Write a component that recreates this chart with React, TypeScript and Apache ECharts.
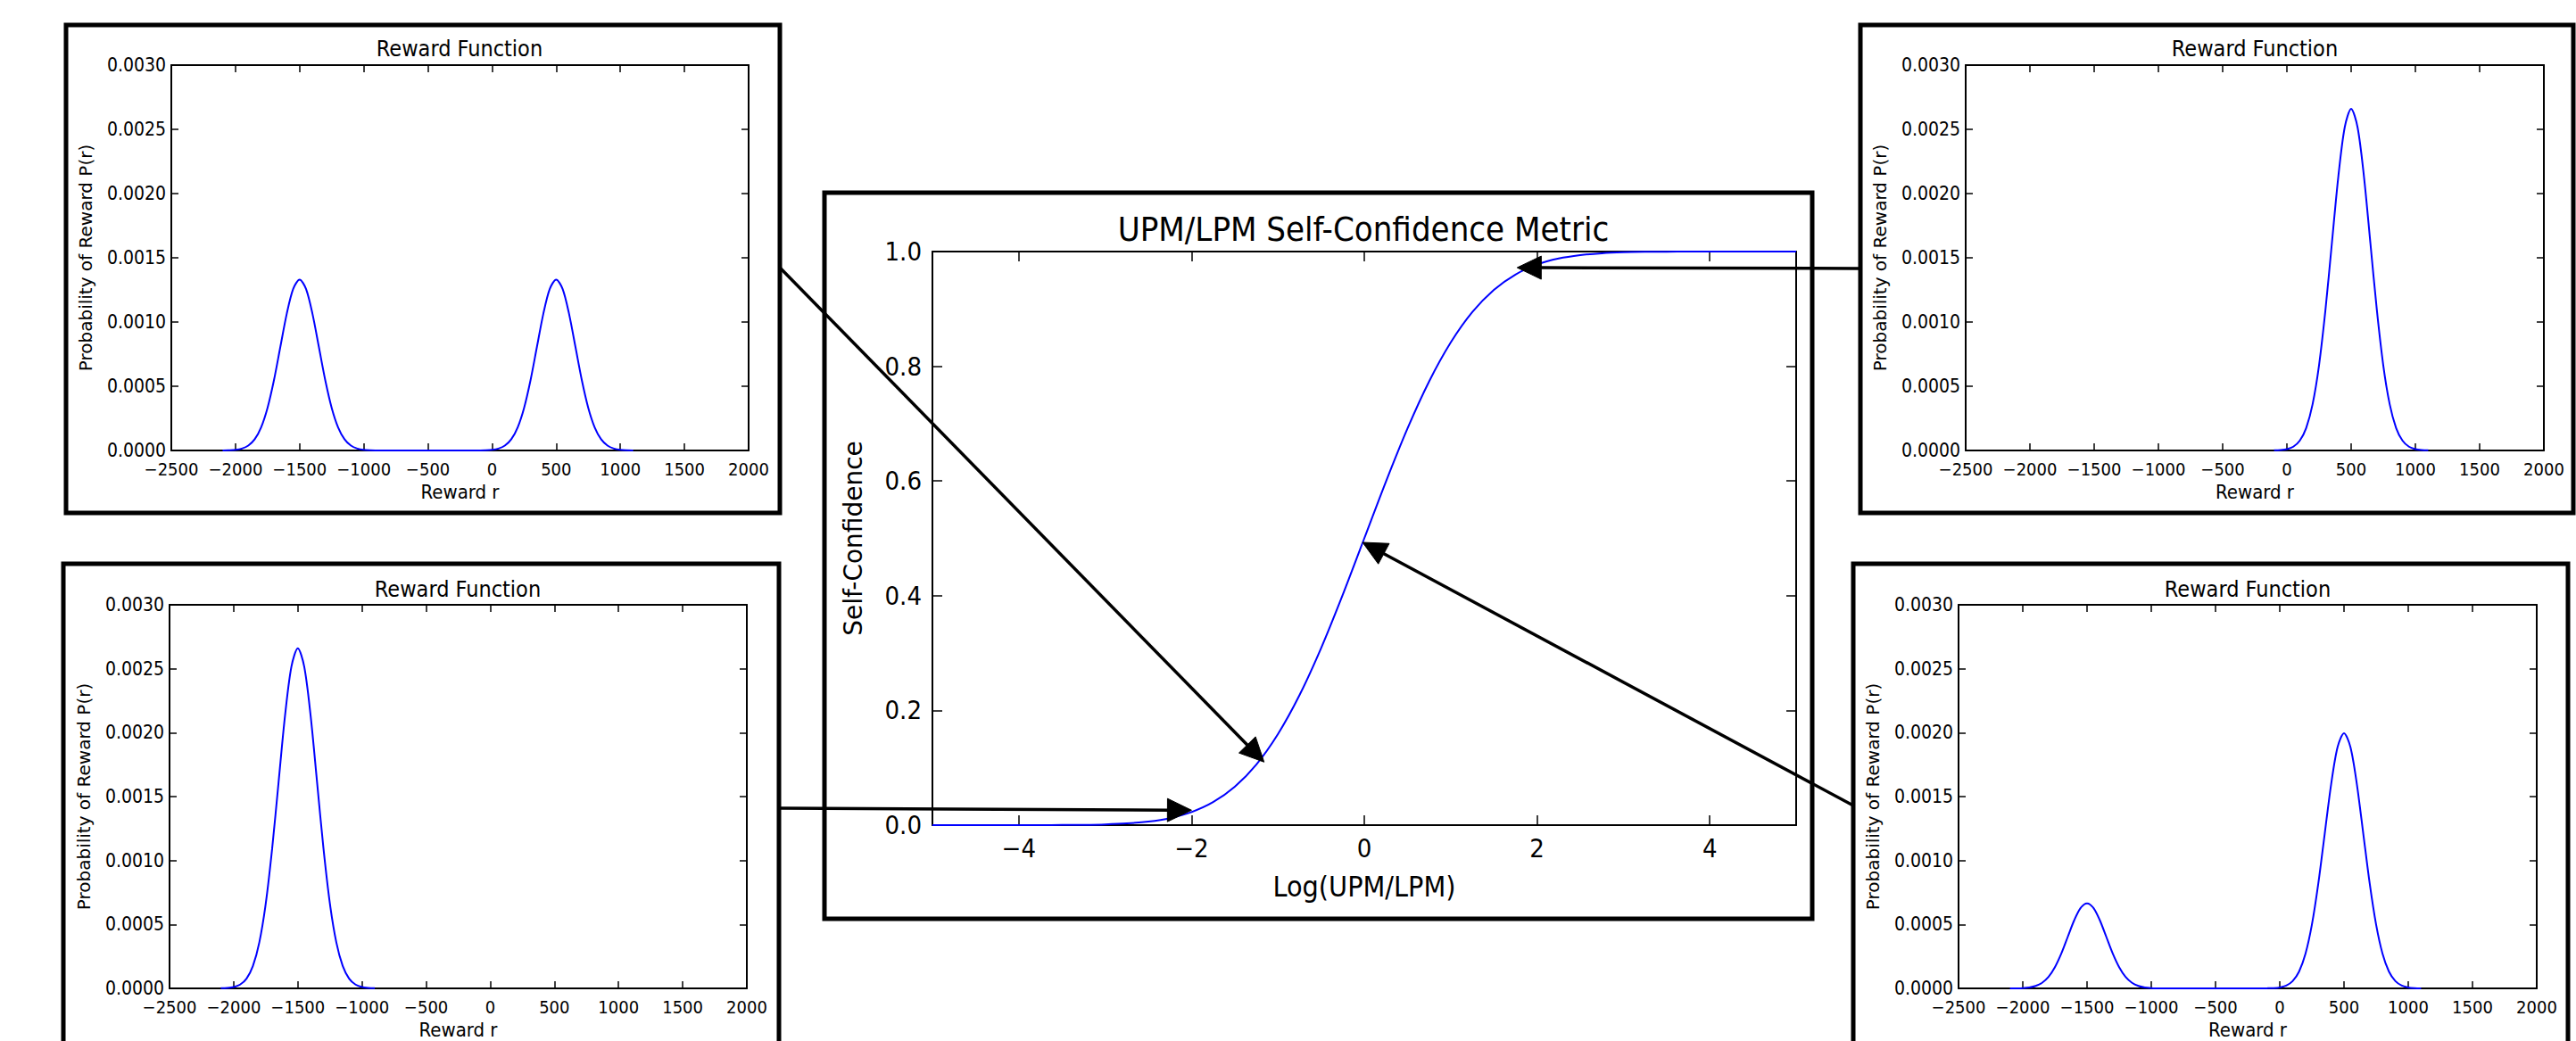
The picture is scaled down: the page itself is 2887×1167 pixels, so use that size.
import React, { useEffect, useRef } from "react";
import * as echarts from "echarts";

// ---------- data ----------
const rewardTicks = [-2500, -2000, -1500, -1000, -500, 0, 500, 1000, 1500, 2000];
const probTicks = [0, 0.0005, 0.001, 0.0015, 0.002, 0.0025, 0.003];

// reward grid for the two-peak panels
const mixX = [
  -2100, -2050, -2000, -1950, -1900, -1850, -1800, -1750, -1700, -1650, -1600, -1550, -1500,
  -1450, -1400, -1350, -1300, -1250, -1200, -1150, -1100, -1050, -1000, -950, -900,
  -850, -800, -750, -700, -650, -600, -550, -500, -450, -400, -350, -300, -250, -200, -150,
  -100, -50, 0, 50, 100, 150, 200, 250, 300, 350, 400, 450, 500,
  550, 600, 650, 700, 750, 800, 850, 900, 950, 1000, 1050, 1100,
];
// top-left: equal peaks at -1500 and 500
const tlY = [
  0.0000005, 0.0000016, 0.0000051, 0.0000148, 0.000038, 0.0000874, 0.00018, 0.000332, 0.000547, 0.000807, 0.001065, 0.001258, 0.00133,
  0.001258, 0.001065, 0.000807, 0.000547, 0.000332, 0.00018, 0.0000874, 0.000038, 0.0000148, 0.0000051, 0.0000016, 0.0000005,
  0, 0, 0, 0, 0, 0, 0, 0, 0, 0, 0, 0, 0, 0, 0,
  0.0000005, 0.0000016, 0.0000051, 0.0000148, 0.000038, 0.0000874, 0.00018, 0.000332, 0.000547, 0.000807, 0.001065, 0.001258, 0.00133,
  0.001258, 0.001065, 0.000807, 0.000547, 0.000332, 0.00018, 0.0000874, 0.000038, 0.0000148, 0.0000051, 0.0000016, 0.0000005,
];
// bottom-right: small peak at -1500, large peak at 500
const brY = [
  0.0000002, 0.0000008, 0.0000026, 0.0000074, 0.000019, 0.0000437, 0.00009, 0.000166, 0.000273, 0.000403, 0.000532, 0.000629, 0.000665,
  0.000629, 0.000532, 0.000403, 0.000273, 0.000166, 0.00009, 0.0000437, 0.000019, 0.0000074, 0.0000026, 0.0000008, 0.0000002,
  0, 0, 0, 0, 0, 0, 0, 0, 0, 0, 0, 0, 0, 0, 0,
  0.0000007, 0.0000024, 0.0000077, 0.0000221, 0.000057, 0.000131, 0.00027, 0.000498, 0.00082, 0.00121, 0.001597, 0.001887, 0.001995,
  0.001887, 0.001597, 0.00121, 0.00082, 0.000498, 0.00027, 0.000131, 0.000057, 0.0000221, 0.0000077, 0.0000024, 0.0000007,
];
// top-right: single peak at 500
const winX = [
  -100, -50, 0, 50, 100, 150, 200, 250, 300, 350, 400, 450, 500,
  550, 600, 650, 700, 750, 800, 850, 900, 950, 1000, 1050, 1100,
];
const trY = [
  0.0000009, 0.0000032, 0.0000103, 0.0000295, 0.000076, 0.000175, 0.00036, 0.000663, 0.001094, 0.001613, 0.00213, 0.002516, 0.00266,
  0.002516, 0.00213, 0.001613, 0.001094, 0.000663, 0.00036, 0.000175, 0.000076, 0.0000295, 0.0000103, 0.0000032, 0.0000009,
];
// bottom-left: single peak at -1500
const loseX = [
  -2100, -2050, -2000, -1950, -1900, -1850, -1800, -1750, -1700, -1650, -1600, -1550, -1500,
  -1450, -1400, -1350, -1300, -1250, -1200, -1150, -1100, -1050, -1000, -950, -900,
];
const blY = [
  0.0000009, 0.0000032, 0.0000103, 0.0000295, 0.000076, 0.000175, 0.00036, 0.000663, 0.001094, 0.001613, 0.00213, 0.002516, 0.00266,
  0.002516, 0.00213, 0.001613, 0.001094, 0.000663, 0.00036, 0.000175, 0.000076, 0.0000295, 0.0000103, 0.0000032, 0.0000009,
];

// centre: self-confidence vs log(UPM/LPM)
const logX = [
  -5, -4.75, -4.5, -4.25, -4, -3.75, -3.5, -3.25, -3, -2.75, -2.5, -2.25, -2, -1.75, -1.5, -1.25, -1, -0.75, -0.5, -0.25,
  0, 0.25, 0.5, 0.75, 1, 1.25, 1.5, 1.75, 2, 2.25, 2.5, 2.75, 3, 3.25, 3.5, 3.75, 4, 4.25, 4.5, 4.75, 5,
];
const confY = [
  0.0000003, 0.000001, 0.0000034, 0.0000107, 0.0000317, 0.0000884, 0.000233, 0.000577, 0.00135, 0.00298, 0.00621, 0.0122, 0.0228, 0.0401, 0.0668, 0.1056, 0.1587, 0.2266, 0.3085, 0.4013,
  0.5, 0.5987, 0.6915, 0.7734, 0.8413, 0.8944, 0.9332, 0.9599, 0.9772, 0.9878, 0.9938, 0.997, 0.99865, 0.99942, 0.99977, 0.99991, 0.99997, 0.99999, 1.0, 1.0, 1.0,
];
const logTicks = [-4, -2, 0, 2, 4];
const confTicks = [0, 0.2, 0.4, 0.6, 0.8, 1.0];

// arrow heads (data coords on centre chart)
const arrowTargets = [
  [-1.16, 0.11],
  [-2.0, 0.026],
  [1.77, 0.972],
  [-0.02, 0.493],
];

const COND = '"DejaVu Sans Condensed", "Liberation Sans Narrow", "DejaVu Sans", sans-serif';
const SANS = '"DejaVu Sans", sans-serif';
const BLUE = "#0000ff";

const zip = (xs: number[], ys: number[]) => xs.map((x, i) => [x, ys[i]]);
const minusFmt = (v: number) => (v < 0 ? "\u2212" + String(-v) : String(v));

// layout
const smallGrids = [
  { left: 192, top: 73, width: 647, height: 432 }, // TL
  { left: 2203, top: 73, width: 648, height: 432 }, // TR
  { left: 190, top: 678, width: 647, height: 430 }, // BL
  { left: 2195, top: 678, width: 648, height: 430 }, // BR
];
const centerGrid = { left: 1045, top: 282, width: 968, height: 643 };

const boxes = [
  { x: 74, y: 28, width: 800, height: 547 },
  { x: 2085, y: 28, width: 799, height: 547 },
  { x: 71, y: 632, width: 802, height: 570 },
  { x: 2077, y: 632, width: 801, height: 570 },
  { x: 924, y: 216, width: 1107, height: 814 },
];
const smallTitles = [
  { x: 515, y: 54 },
  { x: 2527, y: 54 },
  { x: 513, y: 660 },
  { x: 2519, y: 660 },
];
const arrowTails = [
  [874, 300],
  [875, 906],
  [2084, 301],
  [2077, 903],
];

const lineStyle = { color: "#000", width: 2 };
const tickLineStyle = { color: "#000", width: 1.5 };

function buildAxes() {
  const xAxis: any[] = [];
  const yAxis: any[] = [];
  smallGrids.forEach((_, gi) => {
    const common = {
      type: "value",
      gridIndex: gi,
      min: rewardTicks[0],
      max: rewardTicks[rewardTicks.length - 1],
      interval: rewardTicks[1] - rewardTicks[0],
      splitLine: { show: false },
      axisLine: { show: true, onZero: false, lineStyle },
      axisTick: { show: true, inside: true, length: 8, lineStyle: tickLineStyle },
    };
    xAxis.push({
      ...common,
      position: "bottom",
      name: "Reward r",
      nameLocation: "middle",
      nameGap: 35,
      nameTextStyle: { fontSize: 22, fontFamily: COND, color: "#000" },
      axisLabel: {
        fontSize: 20,
        lineHeight: 20,
        fontFamily: COND,
        color: "#000",
        margin: 11,
        formatter: minusFmt,
      },
    });
    xAxis.push({ ...common, position: "top", axisLabel: { show: false } });
    const ycommon = {
      type: "value",
      gridIndex: gi,
      min: probTicks[0],
      max: probTicks[probTicks.length - 1],
      interval: probTicks[1] - probTicks[0],
      splitLine: { show: false },
      axisLine: { show: true, onZero: false, lineStyle },
      axisTick: { show: true, inside: true, length: 8, lineStyle: tickLineStyle },
    };
    yAxis.push({
      ...ycommon,
      position: "left",
      name: "Probability of Reward P(r)",
      nameLocation: "middle",
      nameGap: 86,
      nameTextStyle: { fontSize: 20, fontFamily: SANS, color: "#000" },
      axisLabel: {
        fontSize: 21,
        lineHeight: 20,
        fontFamily: COND,
        color: "#000",
        margin: 6,
        formatter: (v: number) => v.toFixed(4),
      },
    });
    yAxis.push({ ...ycommon, position: "right", axisLabel: { show: false } });
  });
  // centre
  const cx = {
    type: "value",
    gridIndex: 4,
    min: -5,
    max: 5,
    splitNumber: 5,
    splitLine: { show: false },
    axisLine: { show: true, onZero: false, lineStyle },
    axisTick: { show: true, inside: true, length: 11, lineStyle: tickLineStyle, customValues: logTicks },
  };
  xAxis.push({
    ...cx,
    position: "bottom",
    name: "Log(UPM/LPM)",
    nameLocation: "middle",
    nameGap: 53,
    nameTextStyle: { fontSize: 32, fontFamily: COND, color: "#000" },
    axisLabel: {
      fontSize: 29,
      fontFamily: COND,
      color: "#000",
      margin: 11,
      customValues: logTicks,
      formatter: minusFmt,
    },
  });
  xAxis.push({ ...cx, position: "top", axisLabel: { show: false } });
  const cy = {
    type: "value",
    gridIndex: 4,
    min: confTicks[0],
    max: confTicks[confTicks.length - 1],
    interval: 0.2,
    splitLine: { show: false },
    axisLine: { show: true, onZero: false, lineStyle },
    axisTick: { show: true, inside: true, length: 11, lineStyle: tickLineStyle },
  };
  yAxis.push({
    ...cy,
    position: "left",
    name: "Self-Confidence",
    nameLocation: "middle",
    nameGap: 75,
    nameTextStyle: { fontSize: 28, fontFamily: SANS, color: "#000" },
    axisLabel: {
      fontSize: 29,
      fontFamily: COND,
      color: "#000",
      margin: 12,
      formatter: (v: number) => v.toFixed(1),
    },
  });
  yAxis.push({ ...cy, position: "right", axisLabel: { show: false } });
  return { xAxis, yAxis };
}

function lineSeries(idx: number, data: number[][], smooth: number) {
  return {
    type: "line",
    xAxisIndex: idx * 2,
    yAxisIndex: idx * 2,
    data,
    showSymbol: false,
    symbol: "none",
    smooth,
    clip: true,
    lineStyle: { color: BLUE, width: 2 },
    z: 3,
  };
}

export default function App() {
  const ref = useRef<HTMLDivElement>(null);
  useEffect(() => {
    if (!ref.current) return;
    const chart = echarts.init(ref.current, null, { renderer: "svg" });
    const { xAxis, yAxis } = buildAxes();
    const grid = [...smallGrids, centerGrid].map((g) => ({ ...g, containLabel: false, show: false }));
    chart.setOption({
      animation: false,
      backgroundColor: "#ffffff",
      grid,
      xAxis,
      yAxis,
      series: [
        lineSeries(0, zip(mixX, tlY), 0.3),
        lineSeries(1, zip(winX, trY), 0.3),
        lineSeries(2, zip(loseX, blY), 0.3),
        lineSeries(3, zip(mixX, brY), 0.3),
        lineSeries(4, zip(logX, confY), 0.3),
      ],
    });

    const graphic: any[] = [];
    boxes.forEach((b) => {
      graphic.push({
        type: "rect",
        shape: b,
        style: { fill: "none", stroke: "#000", lineWidth: 5 },
        z: 10,
        silent: true,
      });
    });
    smallTitles.forEach((t) => {
      graphic.push({
        type: "text",
        x: t.x,
        y: t.y,
        style: {
          text: "Reward Function",
          fontSize: 25,
          fontFamily: COND,
          fill: "#000",
          align: "center",
          verticalAlign: "middle",
        },
        z: 10,
      });
    });
    graphic.push({
      type: "text",
      x: 1528,
      y: 257,
      style: {
        text: "UPM/LPM Self-Confidence Metric",
        fontSize: 38,
        fontFamily: COND,
        fill: "#000",
        align: "center",
        verticalAlign: "middle",
      },
      z: 10,
    });

    const HL = 27;
    const HW = 13;
    arrowTargets.forEach((tgt, i) => {
      const tip = chart.convertToPixel({ xAxisIndex: 8, yAxisIndex: 8 }, tgt) as number[];
      const tail = arrowTails[i];
      const dx = tip[0] - tail[0];
      const dy = tip[1] - tail[1];
      const len = Math.sqrt(dx * dx + dy * dy);
      const ux = dx / len;
      const uy = dy / len;
      const nx = -uy;
      const ny = ux;
      const bx = tip[0] - ux * HL;
      const by = tip[1] - uy * HL;
      graphic.push({
        type: "line",
        shape: { x1: tail[0], y1: tail[1], x2: bx + ux * 2, y2: by + uy * 2 },
        style: { stroke: "#000", lineWidth: 3.5 },
        z: 20,
        silent: true,
      });
      graphic.push({
        type: "polygon",
        shape: {
          points: [
            [tip[0], tip[1]],
            [bx + nx * HW, by + ny * HW],
            [bx - nx * HW, by - ny * HW],
          ],
        },
        style: { fill: "#000", stroke: "#000", lineWidth: 1 },
        z: 20,
        silent: true,
      });
    });
    chart.setOption({ graphic });
    return () => chart.dispose();
  }, []);
  return (
    <div
      ref={ref}
      style={{ position: "fixed", left: 0, top: 0, width: 2887, height: 1167, background: "#fff" }}
    />
  );
}
